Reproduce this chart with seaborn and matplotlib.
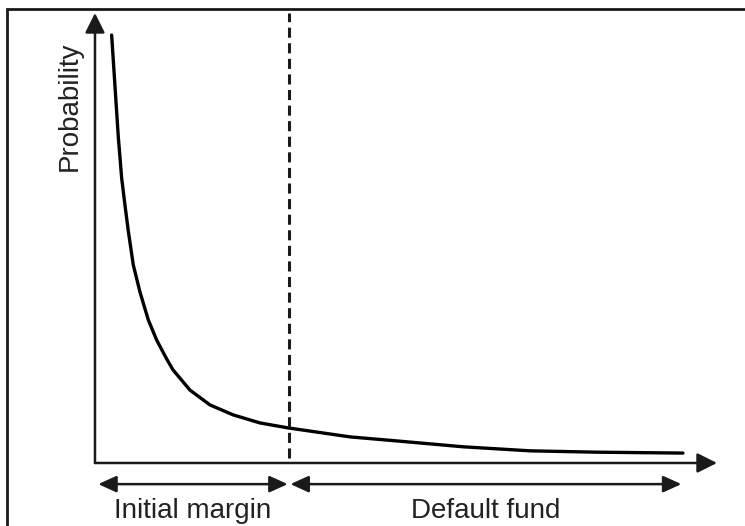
import matplotlib
matplotlib.use("Agg")
import matplotlib.pyplot as plt
import matplotlib.patches as patches
import seaborn as sns

# Curve (loss size vs probability)
loss = [0.268, 0.322, 0.375, 0.429, 0.482, 0.535, 0.616, 0.723, 0.857, 0.992,
        1.153, 1.254, 1.527, 1.849, 2.219, 2.653, 3.103, 4.100, 4.855, 5.916,
        6.994, 8.071, 9.453]
prob = [0.951, 0.836, 0.724, 0.633, 0.573, 0.516, 0.440, 0.380, 0.318, 0.273,
        0.231, 0.207, 0.162, 0.129, 0.107, 0.089, 0.078, 0.058, 0.049, 0.036,
        0.027, 0.024, 0.022]

threshold = 3.12          # boundary between initial margin and default fund
x_start, x_end = 0.03, 9.45
labels = ["Initial margin", "Default fund"]
y_label = "Probability"

sns.set_theme(style="white")
plt.rcParams["font.family"] = ["Liberation Sans", "DejaVu Sans"]

ink = "#1a1a1a"

fig = plt.figure(figsize=(7.45, 5.26), dpi=100)
ax = fig.add_axes([0.1275, 0.1198, 0.8349, 0.8555])

sns.lineplot(x=loss, y=prob, ax=ax, color="black", lw=2.4)

ax.set_xlim(0, 10)
ax.set_ylim(0, 1)
ax.set_xticks([])
ax.set_yticks([])
for s in ax.spines.values():
    s.set_visible(False)

# axes drawn as arrows
axis_arrow = dict(arrowstyle="-|>,head_length=0.6,head_width=0.3", lw=1.8,
                  color=ink, shrinkA=0, shrinkB=0, mutation_scale=20)
ax.annotate("", xy=(0, 1), xytext=(0, 0), xycoords="axes fraction", arrowprops=axis_arrow)
ax.annotate("", xy=(1, 0), xytext=(0, 0), xycoords="axes fraction", arrowprops=axis_arrow)

# dashed boundary
ax.vlines(threshold, 0.01, 1.0, colors=ink, lw=2.2, linestyles=(0, (3.3, 1.8)))

# span arrows under the x axis
span_arrow = dict(arrowstyle="<|-|>,head_length=0.55,head_width=0.25", lw=1.8,
                  color=ink, shrinkA=1, shrinkB=1, mutation_scale=20)
y_span = -0.047
spans = [(x_start, threshold), (threshold, x_end)]
for (a, b), lab in zip(spans, labels):
    ax.annotate("", xy=(b, y_span), xytext=(a, y_span),
                xycoords=("data", "axes fraction"), arrowprops=span_arrow)
    ax.annotate(lab, xy=((a + b) / 2, -0.106), xycoords=("data", "axes fraction"),
                ha="center", va="center", fontsize=20, color="#222222")

ax.set_ylabel(y_label, fontsize=20, color="#222222", va="center")
ax.yaxis.set_label_coords(-0.04, 0.793)

# outer frame
fig.patches.append(patches.Rectangle((0.0094, -0.2), 1.2, 1.183, transform=fig.transFigure,
                                     fill=False, lw=2, edgecolor=ink))

fig.savefig("out.png", dpi=100)
